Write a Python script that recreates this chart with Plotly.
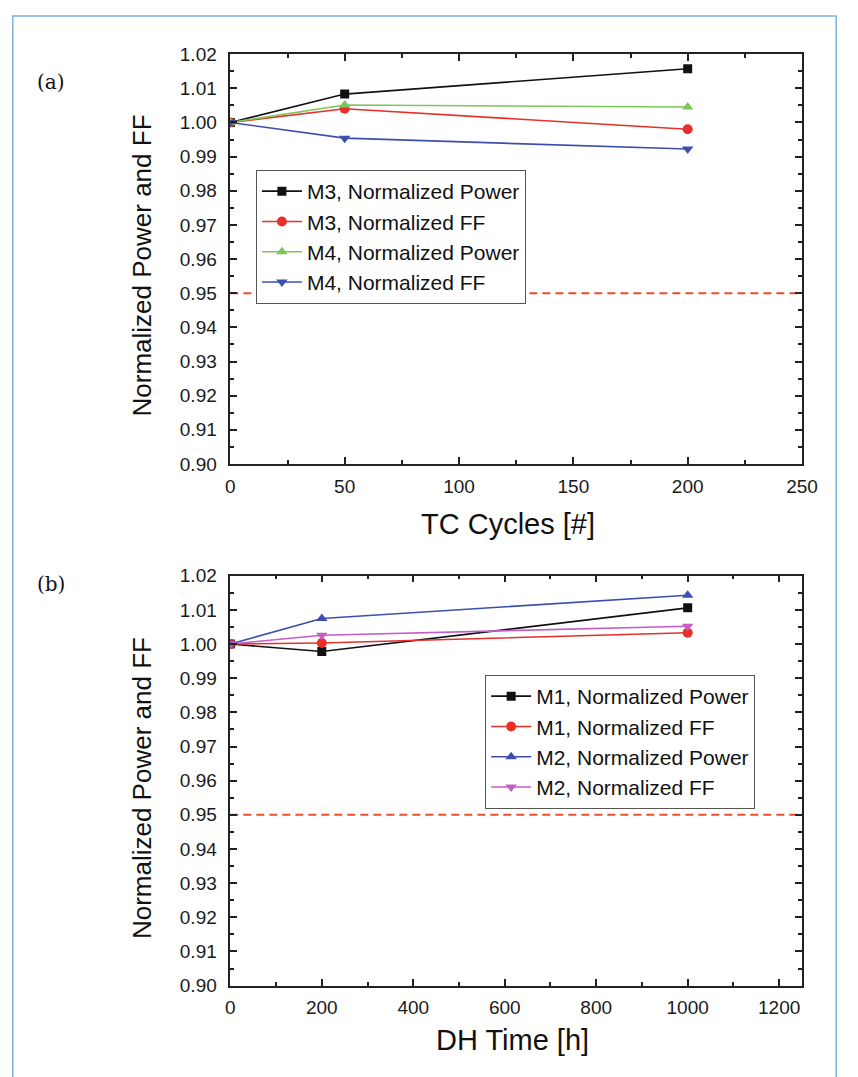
import plotly.graph_objects as go

W, H = 858, 1077

# ---- data: panel (a) thermal cycling ----
tc_cycles = [0, 50, 200]
m3_power = [1.000, 1.0083, 1.0157]
m3_ff = [1.000, 1.0040, 0.9980]
m4_power = [1.000, 1.0051, 1.0045]
m4_ff = [1.000, 0.9954, 0.9922]

# ---- data: panel (b) damp heat ----
dh_hours = [0, 200, 1000]
m1_power = [1.000, 0.9978, 1.0106]
m1_ff = [1.000, 1.0003, 1.0033]
m2_power = [1.000, 1.0075, 1.0143]
m2_ff = [1.000, 1.0026, 1.0052]

limit = 0.95
y_ticks = [0.90, 0.91, 0.92, 0.93, 0.94, 0.95, 0.96, 0.97, 0.98, 0.99, 1.00, 1.01, 1.02]

BLACK = "#111111"
RED = "#e8302a"
GREEN = "#7cc65a"
BLUE = "#3d4fae"
MAGENTA = "#c55ec8"
DASH = "#e8502a"
FONT = "Arial, Liberation Sans, sans-serif"

fig = go.Figure()

def px_x(p):
    return p / W

def px_y(p):
    return 1 - p / H

def add_series(x, y, name, color, symbol, xa, ya, legend):
    fig.add_trace(go.Scatter(
        x=x, y=y, name=name, mode="lines+markers",
        line=dict(color=color, width=1.6),
        marker=dict(symbol=symbol, size=10 if symbol != "square" else 9, color=color),
        xaxis=xa, yaxis=ya, legend=legend,
    ))

add_series(tc_cycles, m3_power, "M3, Normalized Power", BLACK, "square", "x", "y", "legend")
add_series(tc_cycles, m3_ff, "M3, Normalized FF", RED, "circle", "x", "y", "legend")
add_series(tc_cycles, m4_power, "M4, Normalized Power", GREEN, "triangle-up", "x", "y", "legend")
add_series(tc_cycles, m4_ff, "M4, Normalized FF", BLUE, "triangle-down", "x", "y", "legend")

add_series(dh_hours, m1_power, "M1, Normalized Power", BLACK, "square", "x2", "y2", "legend2")
add_series(dh_hours, m1_ff, "M1, Normalized FF", RED, "circle", "x2", "y2", "legend2")
add_series(dh_hours, m2_power, "M2, Normalized Power", BLUE, "triangle-up", "x2", "y2", "legend2")
add_series(dh_hours, m2_ff, "M2, Normalized FF", MAGENTA, "triangle-down", "x2", "y2", "legend2")

# 0.95 limit lines
for xref, yref in (("x", "y"), ("x2", "y2")):
    fig.add_shape(type="line", xref=f"{xref} domain", yref=yref, x0=0, x1=1, y0=limit, y1=limit,
                  line=dict(color=DASH, width=2, dash="8px,5px"), layer="below")

tickfont = dict(family=FONT, size=19, color="#1a1a1a")
axis_common = dict(
    showline=True, linecolor="#222222", linewidth=1.5, mirror="allticks",
    ticks="inside", ticklen=7, tickwidth=1.5, tickcolor="#222222",
    showgrid=False, zeroline=False, tickfont=tickfont,
)

xdom = [px_x(231), px_x(817)]
top_dom = [px_y(463), px_y(45)]
bot_dom = [px_y(995), px_y(577)]

legend_style = dict(xanchor="left", yanchor="top",
                    bgcolor="white", bordercolor="#555555", borderwidth=1.2,
                    font=dict(family=FONT, size=21, color="#111111"),
                    tracegroupgap=0, itemwidth=40)

fig.update_layout(
    width=W, height=H, autosize=False,
    margin=dict(l=0, r=0, t=0, b=0),
    paper_bgcolor="white", plot_bgcolor="white",
    showlegend=True,
    xaxis=dict(domain=xdom, anchor="y", range=[0, 250], dtick=50, tick0=0,
               minor=dict(ticks="inside", ticklen=4, dtick=25, tickcolor="#222222", tickwidth=1.5),
               ticklabelstandoff=4, **axis_common),
    yaxis=dict(domain=top_dom, anchor="x", range=[0.90, 1.02], tickvals=y_ticks, tickformat=".2f",
               minor=dict(ticks="inside", ticklen=4, dtick=0.005, tick0=0.90, tickcolor="#222222", tickwidth=1.5),
               ticklabelstandoff=8, **axis_common),
    xaxis2=dict(domain=xdom, anchor="y2", range=[0, 1250], dtick=200, tick0=0,
                minor=dict(ticks="inside", ticklen=4, dtick=100, tickcolor="#222222", tickwidth=1.5),
                ticklabelstandoff=4, **axis_common),
    yaxis2=dict(domain=bot_dom, anchor="x2", range=[0.90, 1.02], tickvals=y_ticks, tickformat=".2f",
                minor=dict(ticks="inside", ticklen=4, dtick=0.005, tick0=0.90, tickcolor="#222222", tickwidth=1.5),
                ticklabelstandoff=8, **axis_common),
    legend=dict(x=px_x(257), y=px_y(163), **legend_style),
    legend2=dict(x=px_x(492), y=px_y(678), **legend_style),
)

ytitle_font = dict(family=FONT, size=26, color="#111111")
xtitle_font = dict(family=FONT, size=29, color="#111111")
label_font = dict(family="DejaVu Serif, Liberation Serif, serif", size=20, color="#111111")
annotations = [
    dict(text="Normalized Power and FF", x=px_x(140), y=px_y(261), textangle=-90, font=ytitle_font),
    dict(text="Normalized Power and FF", x=px_x(140), y=px_y(794), textangle=-90, font=ytitle_font),
    dict(text="TC Cycles [#]", x=px_x(516), y=px_y(524), font=xtitle_font),
    dict(text="DH Time [h]", x=px_x(520), y=px_y(1050), font=xtitle_font),
    dict(text="(a)", x=px_x(47), y=px_y(73), font=label_font),
    dict(text="(b)", x=px_x(47), y=px_y(585), font=label_font),
]
for a in annotations:
    a.update(showarrow=False, xref="paper", yref="paper", xanchor="center", yanchor="middle")
fig.update_layout(annotations=annotations)

# light blue frame around the figure
fig.add_shape(type="rect", xref="paper", yref="paper",
              x0=px_x(8), x1=px_x(852), y0=-0.02, y1=px_y(6),
              line=dict(color="#7fb0dd", width=1.5), layer="below")

fig.write_html(
    "out.html",
    config={"displayModeBar": False},
    post_script="document.body.style.margin='0';",
)
